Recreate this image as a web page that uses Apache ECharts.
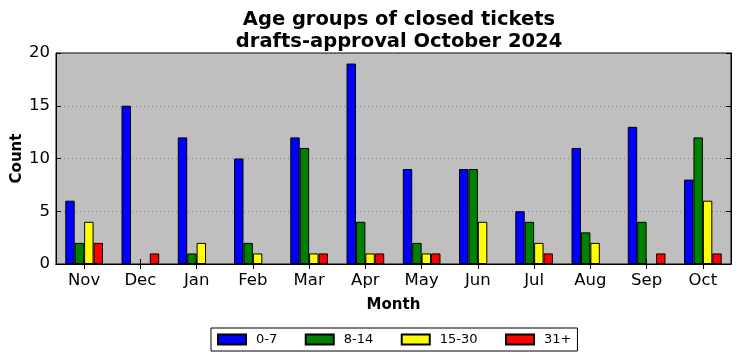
<!DOCTYPE html>
<html><head><meta charset="utf-8">
<script src="https://cdn.jsdelivr.net/npm/echarts@6/dist/echarts.min.js"></script>
<style>html,body{margin:0;padding:0;background:#fff}#c{width:741px;height:361px}</style>
</head><body><div id="c"></div>
<script>
const months = ['Nov','Dec','Jan','Feb','Mar','Apr','May','Jun','Jul','Aug','Sep','Oct'];
const s0_7   = [6, 15, 12, 10, 12, 19, 9, 9, 5, 11, 13, 8];
const s8_14  = [2, 0, 1, 2, 11, 4, 2, 9, 4, 3, 4, 12];
const s15_30 = [4, 0, 2, 1, 1, 1, 1, 4, 2, 2, 0, 6];
const s31    = [2, 1, 0, 0, 1, 1, 1, 0, 1, 0, 1, 1];
const seriesNames = ['0-7','8-14','15-30','31+'];
const seriesColors = ['#0000ff','#008000','#ffff00','#ff0000'];
const yTicks = [0,5,10,15,20];

const F = 'DejaVu Sans';
const chart = echarts.init(document.getElementById('c'), null, {renderer:'canvas'});
const data = [s0_7, s8_14, s15_30, s31];
chart.setOption({
  animation:false,
  textStyle:{fontFamily:F},
  title:{
    text:'Age groups of closed tickets\ndrafts-approval October 2024',
    left:394, top:4, textAlign:'center',
    textStyle:{fontFamily:F, fontSize:19.5, fontWeight:'bold', color:'#000', lineHeight:22}
  },
  grid:{left:56, right:10, top:53, bottom:97, outerBoundsMode:'none', containLabel:false, show:true, backgroundColor:'#bfbfbf', borderColor:'#000', borderWidth:1},
  legend:{
    bottom:10, left:211,
    data:seriesNames,
    icon:'rect', itemWidth:28, itemHeight:10, itemGap:27.5,
    borderColor:'#000', borderWidth:1, borderRadius:0, padding:[5,6,5,6],
    textStyle:{fontFamily:F, fontSize:13, color:'#000', padding:[0,0,0,5]}
  },
  xAxis:[{
    type:'category', data:months, position:'bottom',
    name:'Month', nameLocation:'middle', nameGap:34, nameMoveOverlap:false,
    nameTextStyle:{fontFamily:F, fontSize:15, fontWeight:'bold', color:'#000'},
    axisLine:{show:true, lineStyle:{color:'#000'}},
    axisTick:{show:true, inside:true, alignWithLabel:true, length:5, lineStyle:{color:'#000'}},
    axisLabel:{fontFamily:F, fontSize:16.5, color:'#000', margin:8},
    splitLine:{show:false}
  },{
    type:'category', data:months, position:'top',
    axisLine:{show:true, lineStyle:{color:'#000'}},
    axisTick:{show:true, inside:true, alignWithLabel:true, length:5, lineStyle:{color:'#000'}},
    axisLabel:{show:false}, splitLine:{show:false}
  }],
  yAxis:[{
    type:'value', min:0, max:20, interval:5, position:'left',
    name:'Count', nameLocation:'middle', nameGap:31, nameMoveOverlap:false,
    nameTextStyle:{fontFamily:F, fontSize:15, fontWeight:'bold', color:'#000'},
    axisLine:{show:true, lineStyle:{color:'#000'}},
    axisTick:{show:true, inside:true, length:5, lineStyle:{color:'#000'}},
    axisLabel:{fontFamily:F, fontSize:16.5, color:'#000', margin:6},
    splitLine:{show:true, lineStyle:{color:'#808080', type:[1,3], width:1}}
  },{
    type:'value', min:0, max:20, interval:5, position:'right',
    axisLine:{show:true, lineStyle:{color:'#000'}},
    axisTick:{show:true, inside:true, length:5, lineStyle:{color:'#000'}},
    axisLabel:{show:false}, splitLine:{show:false}
  }],
  series: data.map((d,i)=>({
    name:seriesNames[i], type:'bar', xAxisIndex:0, yAxisIndex:0,
    data:d.map(v=>({value:v, itemStyle:{borderWidth: v===0?0:1}})),
    barGap:'0%', barCategoryGap:'33%',
    itemStyle:{color:seriesColors[i], borderColor:'#000', borderWidth:1}
  }))
});
</script></body></html>
